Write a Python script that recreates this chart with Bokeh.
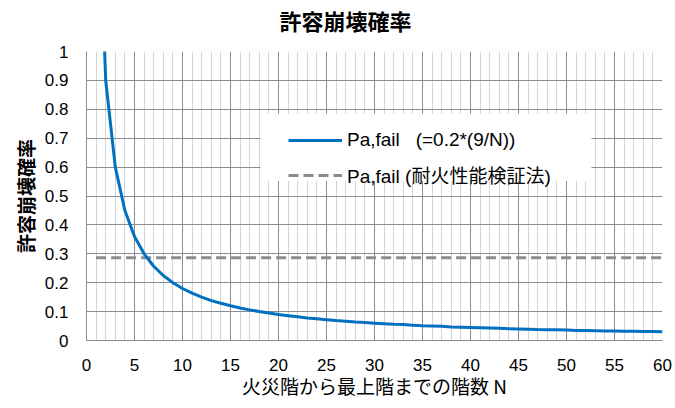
from bokeh.plotting import figure
from bokeh.models import (ColumnDataSource, FixedTicker, Legend, LegendItem,
                          BoxAnnotation, Range1d, Title)
from bokeh.embed import file_html
from bokeh.resources import INLINE

# ---- data ----
floors_n = list(range(1, 61))
pa_fail_formula = [1.8, 0.9, 0.6, 0.45, 0.36, 0.3, 0.257, 0.225, 0.2, 0.18,
                   0.164, 0.15, 0.138, 0.129, 0.12, 0.1125, 0.106, 0.1, 0.095, 0.09,
                   0.086, 0.082, 0.078, 0.075, 0.072, 0.069, 0.067, 0.064, 0.062, 0.06,
                   0.058, 0.056, 0.055, 0.053, 0.051, 0.05, 0.049, 0.047, 0.046, 0.045,
                   0.044, 0.043, 0.042, 0.041, 0.04, 0.039, 0.038, 0.0375, 0.037, 0.036,
                   0.035, 0.035, 0.034, 0.033, 0.033, 0.032, 0.032, 0.031, 0.031, 0.03]
pa_fail_code = [0.286] * 60
x_ticks = [0, 5, 10, 15, 20, 25, 30, 35, 40, 45, 50, 55, 60]
y_ticks = [0, 0.1, 0.2, 0.3, 0.4, 0.5, 0.6, 0.7, 0.8, 0.9, 1]
y_tick_labels = {0: "0", 0.1: "0.1", 0.2: "0.2", 0.3: "0.3", 0.4: "0.4", 0.5: "0.5",
                 0.6: "0.6", 0.7: "0.7", 0.8: "0.8", 0.9: "0.9", 1: "1"}
title_text = "許容崩壊確率"
y_label_text = "許容崩壊確率"
x_label_text = "火災階から最上階までの階数 N"
legend_labels = ["Pa,fail\u00a0\u00a0\u00a0(=0.2*(9/N))", "Pa,fail (耐火性能検証法)"]

LATIN = "'Liberation Sans', 'Noto Sans CJK JP'"
CJK = "'Noto Sans CJK JP'"

src = ColumnDataSource(dict(n=floors_n, f=pa_fail_formula, c=pa_fail_code))

p = figure(width=675, height=408, output_backend="svg", toolbar_location=None,
           x_range=Range1d(0, 60), y_range=Range1d(0, 1),
           min_border_left=86, min_border_right=13, min_border_top=51,
           min_border_bottom=68)
p.outline_line_color = None
p.background_fill_color = "white"
p.border_fill_color = "white"

p.title.text = title_text
p.title.align = "left"
p.title.offset = 193
p.title.standoff = 0
p.title.vertical_align = "bottom"
p.title.text_font = CJK
p.title.text_font_size = "22px"
p.title.text_font_style = "bold"
p.title.text_color = "#000000"

# spacer between the title and the frame
spacer = Title(text=" ", text_font_size="2px", standoff=12)
p.add_layout(spacer, "above")

p.xaxis.ticker = FixedTicker(ticks=x_ticks, minor_ticks=floors_n)
p.yaxis.ticker = FixedTicker(ticks=y_ticks)
p.yaxis.major_label_overrides = y_tick_labels

for ax in (p.xaxis, p.yaxis):
    ax.axis_line_color = "#8c8c8c"
    ax.major_tick_line_color = None
    ax.minor_tick_line_color = None
    ax.major_label_text_font = LATIN
    ax.major_label_text_font_size = "17px"
    ax.major_label_text_color = "#000000"

p.xaxis.major_label_standoff = 12
p.yaxis.major_label_standoff = 12

p.yaxis.axis_label = y_label_text
p.yaxis.axis_label_text_font = CJK
p.yaxis.axis_label_text_font_size = "19px"
p.yaxis.axis_label_text_font_style = "bold"
p.yaxis.axis_label_text_color = "#000000"
p.yaxis.axis_label_standoff = 3

p.xaxis.axis_label = x_label_text
p.xaxis.axis_label_text_font = CJK
p.xaxis.axis_label_text_font_size = "19px"
p.xaxis.axis_label_text_font_style = "normal"
p.xaxis.axis_label_text_color = "#000000"
p.xaxis.axis_label_standoff = -2

p.xgrid.grid_line_color = "#8c8c8c"
p.xgrid.minor_grid_line_color = "#d4d4d4"
p.ygrid.grid_line_color = "#8c8c8c"

r_code = p.line("n", "c", source=src, line_color="#8c8c8c", line_width=3,
                line_dash="10 5")
r_formula = p.line("n", "f", source=src, line_color="#0070c0", line_width=3)

box = BoxAnnotation(left=18.1, right=52.6, top=0.785, bottom=0.552,
                    fill_color="white", fill_alpha=1.0, line_alpha=0)
p.add_layout(box)

legend = Legend(items=[LegendItem(label=legend_labels[0], renderers=[r_formula]),
                       LegendItem(label=legend_labels[1], renderers=[r_code])],
                location=(202, 152), padding=0, margin=0, spacing=10,
                glyph_width=54, glyph_height=20, label_height=20, label_standoff=5,
                background_fill_alpha=0, border_line_alpha=0,
                label_text_font=LATIN, label_text_font_size="19px",
                label_text_color="#000000")
p.add_layout(legend, "center")

open("out.html", "w").write(file_html(p, INLINE))
